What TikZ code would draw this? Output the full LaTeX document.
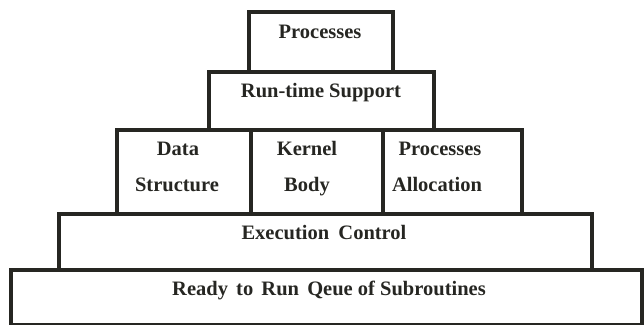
\documentclass[tikz,border=0pt]{standalone}
\usepackage{fontspec}
\setmainfont{Liberation Serif}
\definecolor{ink}{RGB}{38,38,34}
\begin{document}
\begin{tikzpicture}[x=1pt,y=-1pt,
  layer/.style={draw=ink, line width=4pt, rectangle, inner sep=0pt, outer sep=0pt},
  lbl/.style={anchor=base, inner sep=0pt, text=ink, font=\bfseries\fontsize{20.5}{23}\selectfont}]
\useasboundingbox (0,0) rectangle (644,324);
% boxes
\node[layer, minimum width=631pt, minimum height=55pt] (rq) at (326.5,297.5) {};
\node[layer, minimum width=533pt, minimum height=56pt] (ec) at (325.5,242) {};
\node[layer, minimum width=134pt, minimum height=84pt] (ds) at (184,172) {};
\node[layer, minimum width=132pt, minimum height=84pt] (kb) at (317,172) {};
\node[layer, minimum width=139pt, minimum height=84pt] (pa) at (452.5,172) {};
\node[layer, minimum width=225pt, minimum height=58pt] (rts) at (321.5,101) {};
\node[layer, minimum width=144pt, minimum height=60pt] (proc) at (321,42) {};
% labels
\node[lbl] (tproc) at (320,38) {Processes};
\node[lbl] (trts) at (321,97) {Run-time Support};
\node[lbl] (tds1) at (178,155) {Data};
\node[lbl] (tds2) at (177,191) {Structure};
\node[lbl] (tkb1) at (307,155) {Kernel};
\node[lbl] (tkb2) at (307,191) {Body};
\node[lbl] (tpa1) at (440,155) {Processes};
\node[lbl] (tpa2) at (437,191) {Allocation};
\node[lbl] (tec) at (324,239) {Execution\hspace{0.45em}Control};
\node[lbl] (trq) at (329,295) {Ready\hspace{0.4em}to\hspace{0.4em}Run\hspace{0.4em}Qeue of Subroutines};
\end{tikzpicture}
\end{document}
